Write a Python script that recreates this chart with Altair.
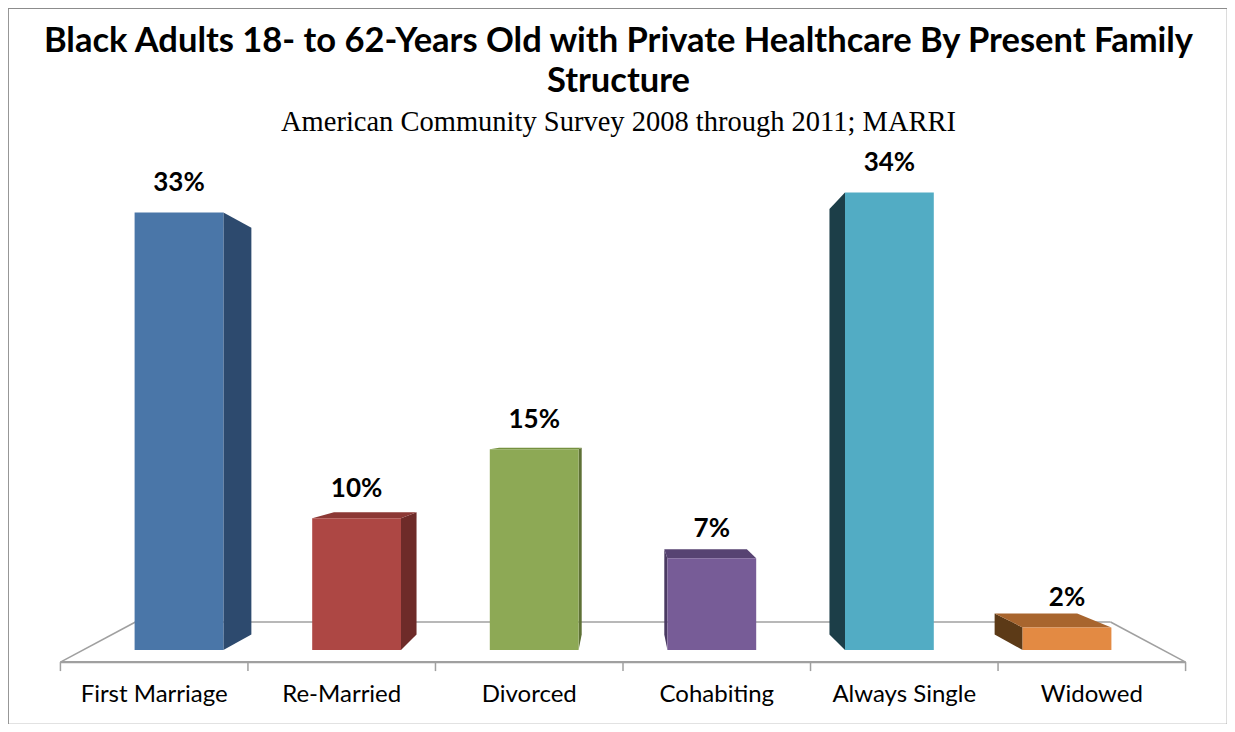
import altair as alt
import pandas as pd

# ---- data ----
CATEGORIES = ["First Marriage", "Re-Married", "Divorced", "Cohabiting", "Always Single", "Widowed"]
VALUES = [0.329, 0.099, 0.151, 0.069, 0.344, 0.017]
TITLE_LINES = ["Black Adults 18- to 62-Years Old with Private Healthcare By Present Family", "Structure"]
SUBTITLE = "American Community Survey 2008 through 2011; MARRI"

# ---- styles ----
FRONT_COLORS = ["#4A76A8", "#AD4744", "#8DA955", "#775C97", "#52ACC4", "#E38A43"]
SIDE_COLORS = ["#2D4A6E", "#6E2B29", "#5E7135", "#4A3A62", "#1C3E48", "#5C3A17"]
TOP_COLORS = ["#3A5F8A", "#8C3835", "#75903F", "#574372", "#3F8EA6", "#A8652E"]

# ---- layout / pseudo-3D geometry ----
W, H = 1219, 716
X0_PX, PX_PER_X = 171, 177.6      # pixel of category 0 centre, pixels per category
Y0_PX, PX_PER_Y = 642, 1330       # pixel of 0 %, pixels per unit (100 %)
X_DOM = [-X0_PX / PX_PER_X, (W - X0_PX) / PX_PER_X]
Y_DOM = [-(H - Y0_PX) / PX_PER_Y, Y0_PX / PX_PER_Y]
HALF_W = 0.25
BAR_VP = (2.5, 0.1654)
BAR_DEPTH = 0.07
FLOOR_VP = (2.5, 0.2165)
FLOOR_FRONT, FLOOR_BACK = -0.042, 0.097
FLOOR_HALF = 3.04


def proj(x, y, t, vp):
    return x + t * (vp[0] - x), y + t * (vp[1] - y)


front_rows, side_rows, top_rows, lab_rows = [], [], [], []
for i, (c, v) in enumerate(zip(CATEGORIES, VALUES)):
    xl, xr = i - HALF_W, i + HALF_W
    front_rows.append(dict(cat=c, x=xl, x2=xr, y=0.0, y2=v, col=FRONT_COLORS[i]))
    lab_rows.append(dict(cat=c, x=float(i), y=v, v=v))
    xf = None
    if xr < BAR_VP[0]:
        xf = xr
    elif xl > BAR_VP[0]:
        xf = xl
    if xf is not None:
        bx, by0 = proj(xf, 0.0, BAR_DEPTH, BAR_VP)
        _, by1 = proj(xf, v, BAR_DEPTH, BAR_VP)
        side_rows.append(dict(cat=c, x=xf, y=0.0, y2=v, col=SIDE_COLORS[i]))
        side_rows.append(dict(cat=c, x=bx, y=by0, y2=by1, col=SIDE_COLORS[i]))
    if v < BAR_VP[1]:
        bxl, byt = proj(xl, v, BAR_DEPTH, BAR_VP)
        bxr, _ = proj(xr, v, BAR_DEPTH, BAR_VP)
        top_rows.append(dict(cat=c, y=v, x=xl, x2=xr, col=TOP_COLORS[i]))
        top_rows.append(dict(cat=c, y=byt, x=bxl, x2=bxr, col=TOP_COLORS[i]))

front_df = pd.DataFrame(front_rows)
side_df = pd.DataFrame(side_rows)
top_df = pd.DataFrame(top_rows)
lab_df = pd.DataFrame(lab_rows)

lx, rx = BAR_VP[0] - FLOOR_HALF, BAR_VP[0] + FLOOR_HALF
FL = proj(lx, 0.0, FLOOR_FRONT, FLOOR_VP)
FR = proj(rx, 0.0, FLOOR_FRONT, FLOOR_VP)
BL = proj(lx, 0.0, FLOOR_BACK, FLOOR_VP)
BR = proj(rx, 0.0, FLOOR_BACK, FLOOR_VP)
floor_df = pd.DataFrame([
    dict(seg="back", x=BL[0], y=BL[1], x2=BR[0], y2=BR[1], w=1.6),
    dict(seg="left", x=FL[0], y=FL[1], x2=BL[0], y2=BL[1], w=1.6),
    dict(seg="right", x=FR[0], y=FR[1], x2=BR[0], y2=BR[1], w=1.6),
    dict(seg="front", x=FL[0], y=FL[1], x2=FR[0], y2=FR[1], w=2.2),
])
n = len(CATEGORIES)
band = (FR[0] - FL[0]) / n
tick_df = pd.DataFrame(dict(x=[FL[0] + k * band for k in range(n + 1)], y=[FL[1]] * (n + 1)))
axis_lab_df = pd.DataFrame(dict(cat=CATEGORIES, x=[FL[0] + (k + 0.5) * band for k in range(n)], y=[FL[1]] * n))

xs = alt.Scale(domain=X_DOM, nice=False, zero=False)
ys = alt.Scale(domain=Y_DOM, nice=False, zero=False)
X = lambda f="x": alt.X(f"{f}:Q", scale=xs, axis=None)
Y = lambda f="y": alt.Y(f"{f}:Q", scale=ys, axis=None)

floor = alt.Chart(floor_df).mark_rule(color="#a0a0a0").encode(
    x=X(), y=Y(), x2="x2:Q", y2="y2:Q", strokeWidth=alt.StrokeWidth("w:Q", scale=None))
ticks = alt.Chart(tick_df).mark_rule(color="#a0a0a0", strokeWidth=1.5, y2Offset=9).encode(
    x=X(), y=Y(), y2="y:Q")
sides = alt.Chart(side_df).mark_area(orient="vertical", interpolate="linear").encode(
    x=X(), y=Y(), y2="y2:Q", detail="cat:N", color=alt.Color("col:N", scale=None))
tops = alt.Chart(top_df).mark_area(orient="horizontal", interpolate="linear").encode(
    y=Y(), x=X(), x2="x2:Q", detail="cat:N", color=alt.Color("col:N", scale=None))
fronts = alt.Chart(front_df).mark_rect().encode(
    x=X(), x2="x2:Q", y=Y(), y2="y2:Q", color=alt.Color("col:N", scale=None))
values = alt.Chart(lab_df).mark_text(font="Lato", fontWeight="bold", fontSize=26, dy=-29,
                                     baseline="middle", color="black").encode(
    x=X(), y=Y(), text=alt.Text("v:Q", format=".0%"))
axis_labels = alt.Chart(axis_lab_df).mark_text(font="Lato", fontSize=24, dy=33,
                                               baseline="middle", color="black").encode(
    x=X(), y=Y(), text="cat:N")

cx = W / 2 + 1
t1 = alt.Chart(pd.DataFrame(dict(t=[TITLE_LINES[0]]))).mark_text(
    font="Lato", fontWeight="bold", fontSize=34.5, baseline="middle", color="black").encode(
    x=alt.value(cx), y=alt.value(34), text="t:N")
t2 = alt.Chart(pd.DataFrame(dict(t=[TITLE_LINES[1]]))).mark_text(
    font="Lato", fontWeight="bold", fontSize=34.5, baseline="middle", color="black").encode(
    x=alt.value(cx), y=alt.value(74), text="t:N")
t3 = alt.Chart(pd.DataFrame(dict(t=[SUBTITLE]))).mark_text(
    font="Liberation Serif", fontSize=28.5, baseline="middle", color="black").encode(
    x=alt.value(cx), y=alt.value(114), text="t:N")

chart = alt.layer(floor, ticks, sides, tops, fronts, values, axis_labels, t1, t2, t3).properties(
    width=W, height=H, padding=0
).configure_view(stroke="#8c8c8c", strokeWidth=1.2)

chart.save("out.html", embed_options={"renderer": "svg", "actions": False})
